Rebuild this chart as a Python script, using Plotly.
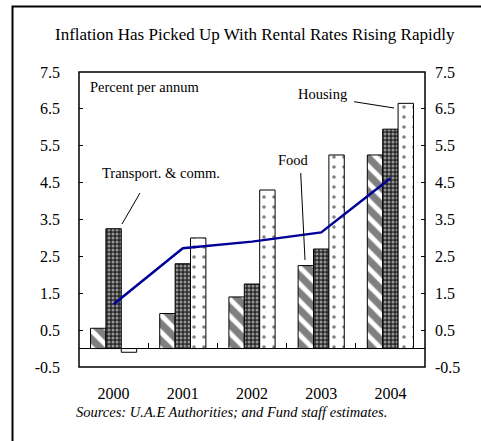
import plotly.graph_objects as go

years = ["2000", "2001", "2002", "2003", "2004"]
food = [0.55, 0.95, 1.4, 2.25, 5.25]
transport = [3.25, 2.3, 1.75, 2.7, 5.95]
housing = [-0.1, 3.0, 4.3, 5.25, 6.65]
overall = [1.2, 2.72, 2.9, 3.15, 4.62]
yticks = [-0.5, 0.5, 1.5, 2.5, 3.5, 4.5, 5.5, 6.5, 7.5]

FONT = "Liberation Serif"
W, H = 481, 441
L, R, T, B = 79, 425, 72, 367

fig = go.Figure()
fig.add_trace(go.Bar(x=years, y=food, name="Food",
                     marker=dict(color="white", line=dict(color="black", width=1),
                                 pattern=dict(shape="\\", fgcolor="black", bgcolor="white",
                                              size=12, solidity=0.6))))
fig.add_trace(go.Bar(x=years, y=transport, name="Transport. & comm.",
                     marker=dict(color="white", line=dict(color="black", width=1),
                                 pattern=dict(shape=".", fgcolor="white", bgcolor="#2a2a2a",
                                              size=4, solidity=0.45))))
fig.add_trace(go.Bar(x=years, y=housing, name="Housing",
                     marker=dict(color="white", line=dict(color="black", width=1),
                                 pattern=dict(shape=".", fgcolor="black", bgcolor="white",
                                              size=10, solidity=0.1))))
fig.add_trace(go.Scatter(x=years, y=overall, mode="lines", name="Overall",
                         line=dict(color="#000099", width=2.5), yaxis="y2"))
# invisible helper trace for the zero-line tick axis
fig.add_trace(go.Scatter(x=[0, 4], y=[0, 0], mode="markers", xaxis="x3",
                         marker=dict(opacity=0), hoverinfo="skip", showlegend=False))

axis_font = dict(family=FONT, size=16, color="black")
fig.update_layout(
    width=W, height=H,
    margin=dict(l=L, r=W - R, t=T, b=H - B, pad=0),
    paper_bgcolor="white", plot_bgcolor="white",
    showlegend=False,
    barmode="group", bargap=0.333, bargroupgap=0,
    font=dict(family=FONT, color="black"),
    xaxis=dict(type="category", range=[-0.5, 4.5], showline=False,
               ticks="", tickfont=axis_font,
               ticklabelstandoff=15, showgrid=False, zeroline=False),
    xaxis3=dict(overlaying="x", anchor="free", position=0.5 / 8, type="linear",
                range=[-0.5, 4.5], tickvals=[0.5, 1.5, 2.5, 3.5], ticks="inside",
                ticklen=6, tickcolor="black", showticklabels=False, showline=False,
                showgrid=False, zeroline=False),
    yaxis=dict(range=[-0.5, 7.5], tickvals=yticks, ticktext=[f"{v:.1f}" for v in yticks],
               ticks="inside", ticklen=4, tickcolor="black", showline=False,
               showgrid=False, zeroline=True,
               zerolinecolor="black", zerolinewidth=1, tickfont=axis_font,
               ticklabelstandoff=18),
    yaxis2=dict(overlaying="y", side="right", range=[-0.5, 7.5], tickvals=yticks,
                ticktext=[f"{v:.1f}" for v in yticks], ticks="inside", ticklen=4,
                tickcolor="black", showline=False,
                showgrid=False, zeroline=False, tickfont=axis_font,
                ticklabelstandoff=9),
)

pw, ph = R - L, B - T
def px_x(p):
    return (p - L) / pw
def px_y(p):
    return (B - p) / ph

# plot frame
fig.add_shape(type="rect", xref="paper", yref="paper", x0=0, x1=1, y0=0, y1=1,
              line=dict(color="black", width=1.5), fillcolor="rgba(0,0,0,0)")
# outer frame
fig.add_shape(type="rect", xref="paper", yref="paper",
              x0=px_x(12.5), x1=px_x(540), y0=px_y(500), y1=px_y(6.5),
              line=dict(color="black", width=2), fillcolor="rgba(0,0,0,0)", layer="below")

def note(text, x, y, size, xanchor="center"):
    fig.add_annotation(xref="paper", yref="paper", x=px_x(x), y=px_y(y),
                       xanchor=xanchor, yanchor="middle", text=text, showarrow=False,
                       font=dict(family=FONT, size=size, color="black"))

note("Inflation Has Picked Up With Rental Rates Rising Rapidly", 254.5, 35, 17)
note("<i>Sources: U.A.E Authorities; and Fund staff estimates.</i>", 231, 412, 14.5)
note("Percent per annum", 88, 87, 14.5, xanchor="left")
note("Transport. &amp; comm.", 161, 173, 14.5)
note("Food", 293.5, 160, 14.5)
note("Housing", 322.5, 94, 14.5)

# leader lines
for (a, b, c, d) in [(140, 193, 122, 224), (300.7, 173, 305, 260), (354, 101.7, 394, 108)]:
    fig.add_shape(type="line", xref="paper", yref="paper",
                  x0=px_x(a), y0=px_y(b), x1=px_x(c), y1=px_y(d),
                  line=dict(color="black", width=1))

fig.write_html("out.html")
